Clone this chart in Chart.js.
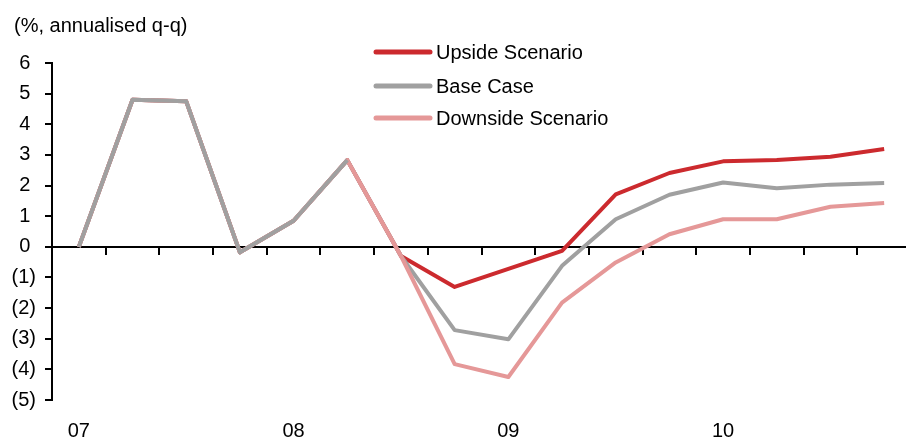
<!DOCTYPE html>
<html>
<head>
<meta charset="utf-8">
<script src="https://cdn.jsdelivr.net/npm/chart.js@4"></script>
<style>
  html, body { margin: 0; padding: 0; background: #fff; overflow: hidden; }
  #wrap { width: 915px; height: 438px; }
</style>
</head>
<body>
<div id="wrap"><canvas id="gdp" width="915" height="438"></canvas></div>
<script>
// 분기 라벨
const quarters = ["1Q07", "2Q07", "3Q07", "4Q07", "1Q08", "2Q08", "3Q08", "4Q08",
  "1Q09", "2Q09", "3Q09", "4Q09", "1Q10", "2Q10", "3Q10", "4Q10"];

// 실적치 (시나리오 공통 구간)
const actual = [0, 4.8, 4.75, -0.18, 0.85, 2.83];

// 시나리오별 전망치
const upside = [0, 4.8, 4.75, -0.18, 0.85, 2.83, -0.3, -1.31, -0.72, -0.13, 1.71, 2.41, 2.79, 2.83, 2.94, 3.19];
const baseCase = [0, 4.8, 4.75, -0.18, 0.85, 2.83, -0.3, -2.72, -3.02, -0.62, 0.9, 1.7, 2.1, 1.91, 2.03, 2.08];
const downside = [0, 4.8, 4.75, -0.18, 0.85, 2.83, -0.3, -3.83, -4.25, -1.82, -0.51, 0.41, 0.9, 0.9, 1.31, 1.43];

const yMin = -5;
const yMax = 6;
const unitTitle = "(%, annualised q-q)";

const FONT = "Liberation Sans, Arial, sans-serif";
const FONT_SIZE = 20;
const RED = "#CC2A2E";
const GREY = "#A0A0A0";
const PINK = "#E59898";

// 제목 + 범례 (세로 배치라 직접 그림)
const titleLegendPlugin = {
  id: "titleLegend",
  afterDraw(chart) {
    const ctx = chart.ctx;
    ctx.save();
    ctx.font = `${FONT_SIZE}px ${FONT}`;
    ctx.fillStyle = "#000";
    ctx.textAlign = "left";
    ctx.textBaseline = "alphabetic";
    ctx.fillText(unitTitle, 14, 32);

    const rows = [52, 86, 118];
    const items = chart.data.datasets.filter((ds) => !ds.noLegend);
    items.forEach((ds, i) => {
      const y = rows[i];
      ctx.beginPath();
      ctx.strokeStyle = ds.borderColor;
      ctx.lineWidth = 5;
      ctx.lineCap = "round";
      ctx.moveTo(376, y);
      ctx.lineTo(430, y);
      ctx.stroke();
      ctx.fillStyle = "#000";
      ctx.fillText(ds.label, 436, y + 7);
    });
    ctx.restore();
  },
};

const lineStyle = {
  borderWidth: 4,
  pointRadius: 0,
  tension: 0,
  fill: false,
  borderJoinStyle: "round",
  xAxisID: "x",
  yAxisID: "y",
};

const data = {
  labels: quarters,
  datasets: [
    { ...lineStyle, label: "Upside Scenario", data: upside, borderColor: RED, order: 3 },
    { ...lineStyle, label: "Base Case", data: baseCase, borderColor: GREY, order: 2 },
    { ...lineStyle, label: "Downside Scenario", data: downside, borderColor: PINK, order: 1 },
    { ...lineStyle, label: "Actual", data: actual, borderColor: GREY, order: 0, noLegend: true },
  ],
};

const options = {
  responsive: false, // 크기 고정
  animation: false,
  layout: {
    padding: { top: 63, right: 4, left: 0, bottom: 0 },
  },
  plugins: {
    legend: { display: false },
    tooltip: { enabled: false },
  },
  scales: {
    // 0 위치의 가로축 (눈금만)
    x: {
      type: "category",
      position: { y: 0 },
      offset: true,
      grid: { offset: true, drawOnChartArea: false, tickLength: 7, color: "#000", lineWidth: 2 },
      border: { color: "#000", width: 2 },
      ticks: { display: false },
      afterFit(scale) {
        scale.height = 0;
      },
    },
    // 맨 아래 연도 라벨
    x2: {
      type: "category",
      position: "bottom",
      offset: true,
      grid: { display: false, drawTicks: false },
      border: { display: false },
      ticks: {
        autoSkip: false,
        maxRotation: 0,
        minRotation: 0,
        padding: 19,
        color: "#000",
        font: { family: FONT, size: FONT_SIZE },
        callback: function (value) {
          const q = this.getLabelForValue(value);
          return q.startsWith("1Q") ? q.slice(2) : "";
        },
      },
      afterFit(scale) {
        scale.height = 38;
      },
    },
    y: {
      min: yMin,
      max: yMax,
      grid: { drawOnChartArea: false, tickLength: 7, color: "#000", lineWidth: 2 },
      border: { color: "#000", width: 2 },
      ticks: {
        stepSize: 1,
        padding: 9,
        color: "#000",
        font: { family: FONT, size: FONT_SIZE },
        // 음수는 괄호 표기, 양수는 괄호 폭만큼 띄움
        callback: (v) => (v < 0 ? `(${-v})` : `${v} `),
      },
      afterFit(scale) {
        scale.width = 52;
      },
    },
  },
};

new Chart(document.getElementById("gdp"), {
  type: "line",
  data: data,
  options: options,
  plugins: [titleLegendPlugin],
});
</script>
</body>
</html>
